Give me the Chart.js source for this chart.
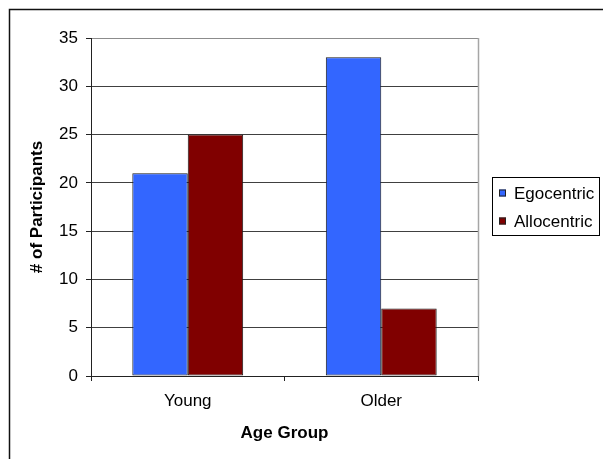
<!DOCTYPE html>
<html>
<head>
<meta charset="utf-8">
<title>Age Group</title>
<script src="https://cdn.jsdelivr.net/npm/chart.js@4.4.1/dist/chart.umd.min.js"></script>
<style>
  html, body { margin: 0; padding: 0; background: #fff; }
  #chart { display: block; }
</style>
</head>
<body>
<canvas id="chart" width="603" height="459"></canvas>
<script>
// Participants per strategy, by age group
const categories   = ['Young', 'Older'];
const seriesNames  = ['Egocentric', 'Allocentric'];
const egocentric   = [21, 33];
const allocentric  = [25, 7];
const seriesColors = ['#3366FF', '#800000'];
const yMax  = 35;
const yStep = 5;

const FONT = '"Liberation Sans", Arial, Helvetica, sans-serif';
Chart.defaults.font.family = FONT;
Chart.defaults.color = '#000';

/* white background + outer frame */
const framePlugin = {
  id: 'frame',
  beforeDraw(chart) {
    const { ctx, width, height } = chart;
    ctx.save();
    ctx.fillStyle = '#fff';
    ctx.fillRect(0, 0, width, height);
    ctx.strokeStyle = '#111';
    ctx.lineWidth = 1.5;
    ctx.strokeRect(9.5, 9.5, width + 20, height + 20);
    ctx.restore();
  }
};

/* grey right edge of the plot area */
const plotEdge = {
  id: 'plotEdge',
  beforeDatasetsDraw(chart) {
    const { ctx, chartArea: a } = chart;
    ctx.save();
    ctx.strokeStyle = '#a6a6a6';
    ctx.lineWidth = 1.5;
    ctx.beginPath();
    ctx.moveTo(a.right + 0.5, a.top);
    ctx.lineTo(a.right + 0.5, a.bottom);
    ctx.stroke();
    ctx.restore();
  }
};

/* boxed legend on the right */
const boxedLegend = {
  id: 'boxedLegend',
  afterDraw(chart) {
    const ctx = chart.ctx;
    const x0 = 492.5, y0 = 177.5, w = 107, h = 58;
    ctx.save();
    ctx.strokeStyle = '#000';
    ctx.lineWidth = 1;
    ctx.strokeRect(x0, y0, w, h);
    ctx.font = '17px ' + FONT;
    ctx.textBaseline = 'middle';
    chart.data.datasets.forEach((ds, i) => {
      const cy = 193.5 + i * 28;
      ctx.fillStyle = ds.backgroundColor;
      ctx.fillRect(499, cy - 4, 7, 7);
      ctx.strokeStyle = '#222';
      ctx.strokeRect(499.5, cy - 3.5, 6, 6);
      ctx.fillStyle = '#000';
      ctx.fillText(ds.label, 514, cy + 0.5);
    });
    ctx.restore();
  }
};

new Chart(document.getElementById('chart'), {
  type: 'bar',
  data: {
    labels: categories,
    datasets: [
      { label: seriesNames[0], data: egocentric,  backgroundColor: seriesColors[0] },
      { label: seriesNames[1], data: allocentric, backgroundColor: seriesColors[1] }
    ]
  },
  options: {
    responsive: false,
    animation: false,
    layout: { padding: { left: 0, top: 38, right: 125, bottom: 0 } },
    datasets: {
      bar: {
        categoryPercentage: 0.573,
        barPercentage: 1.0,
        borderColor: '#1a1a1a',
        borderWidth: 1,
        borderSkipped: false
      }
    },
    plugins: {
      legend: { display: false },
      tooltip: { enabled: false }
    },
    scales: {
      x: {
        offset: true,
        afterFit: s => { s.height = 83; },
        grid: {
          offset: true,
          drawOnChartArea: false,
          drawTicks: true,
          tickLength: 5,
          tickColor: '#222'
        },
        border: { display: true, color: '#222', width: 1, z: 1 },
        ticks: { padding: 10, font: { size: 17 }, color: '#000' },
        title: {
          display: true,
          text: 'Age Group',
          font: { size: 17, weight: 'bold' },
          color: '#000',
          padding: { top: 0, bottom: 15 }
        }
      },
      y: {
        min: 0,
        max: yMax,
        afterFit: s => { s.width = 91; },
        ticks: { stepSize: yStep, padding: 8, font: { size: 17 }, color: '#000' },
        grid: {
          color: c => (c.tick && c.tick.value === yMax) ? '#8c8c8c' : '#404040',
          lineWidth: 1,
          drawTicks: true,
          tickLength: 5,
          tickColor: '#222'
        },
        border: { display: true, color: '#222', width: 1, z: 1 },
        title: {
          display: true,
          text: '# of Participants',
          font: { size: 17, weight: 'bold' },
          color: '#000',
          padding: { top: 27, bottom: 0 }
        }
      }
    }
  },
  plugins: [framePlugin, plotEdge, boxedLegend]
});
</script>
</body>
</html>
